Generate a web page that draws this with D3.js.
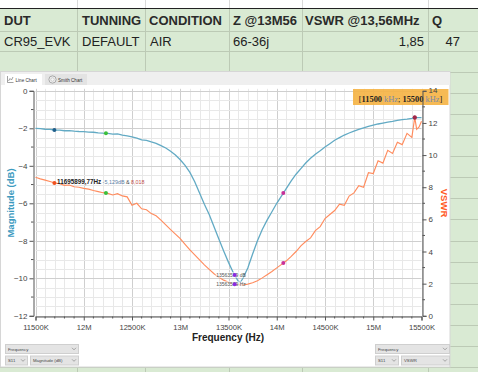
<!DOCTYPE html>
<html><head><meta charset="utf-8">
<script src="https://cdn.jsdelivr.net/npm/d3@7"></script>
<style>html,body{margin:0;padding:0;background:#fff;}svg{display:block;}</style>
</head><body>
<svg id="c" width="478" height="372"></svg>
<script>
// ---- spreadsheet content ----
const tableHeader = ["DUT","TUNNING","CONDITION","Z @13M56","VSWR @13,56MHz","Q"];
const tableRow = ["CR95_EVK","DEFAULT","AIR","66-36j","1,85","47"];

// ---- chart data (frequency in MHz) ----
const freqMHz = [11.50,11.55,11.60,11.65,11.70,11.75,11.80,11.85,11.90,11.95,
  12.00,12.05,12.10,12.15,12.20,12.25,12.30,12.35,12.40,12.45,
  12.50,12.55,12.60,12.65,12.70,12.75,12.80,12.85,12.90,12.95,
  13.00,13.05,13.10,13.15,13.20,13.25,13.30,13.35,13.40,13.45,
  13.50,13.55,13.60,13.625,13.65,13.70,13.75,13.80,13.85,13.90,13.95,
  14.00,14.05,14.10,14.15,14.20,14.25,14.30,14.35,14.40,14.45,
  14.50,14.55,14.60,14.65,14.70,14.75,14.80,14.85,14.90,14.95,
  15.00,15.05,15.10,15.15,15.20,15.25,15.30,15.35,15.40,15.43,15.45,15.475,15.50];
const s11dB = [-2.00,-2.02,-2.05,-2.06,-2.09,-2.10,-2.13,-2.12,-2.15,-2.17,
  -2.18,-2.20,-2.21,-2.24,-2.26,-2.27,-2.31,-2.30,-2.36,-2.40,
  -2.46,-2.52,-2.62,-2.64,-2.73,-2.80,-2.92,-3.05,-3.22,-3.42,
  -3.68,-3.98,-4.35,-4.85,-5.45,-6.05,-6.60,-7.25,-7.90,-8.55,
  -9.15,-9.70,-10.15,-10.20,-10.00,-9.45,-8.70,-8.00,-7.40,-6.90,-6.45,
  -6.00,-5.60,-5.20,-4.80,-4.45,-4.15,-3.85,-3.60,-3.38,-3.20,
  -3.00,-2.82,-2.64,-2.50,-2.36,-2.25,-2.15,-2.06,-1.98,-1.90,
  -1.83,-1.77,-1.72,-1.67,-1.63,-1.58,-1.54,-1.51,-1.47,-1.44,-1.43,-1.43,-1.43];
const vswr = [8.62,8.52,8.44,8.36,8.26,8.22,8.12,8.14,8.03,8.00,
  7.93,7.88,7.80,7.73,7.66,7.62,7.52,7.60,7.46,7.40,
  6.88,7.00,6.66,6.60,6.36,6.22,5.95,5.66,5.36,5.08,
  4.80,4.45,4.10,3.79,3.48,3.17,2.89,2.62,2.40,2.22,
  2.08,1.98,1.93,1.92,1.92,1.97,2.06,2.18,2.36,2.56,2.76,
  2.98,3.20,3.42,3.70,4.00,4.35,4.62,4.85,5.30,5.55,
  6.05,6.30,6.55,6.95,6.88,7.45,7.65,8.10,8.00,8.90,
  8.85,9.65,9.50,10.30,10.10,10.80,10.65,11.35,11.10,12.35,11.60,11.75,12.10];

const xTickValues = [11.5,12.0,12.5,13.0,13.5,14.0,14.5,15.0,15.5];
const xTickLabels = ["11500K","12M","12500K","13M","13500K","14M","14500K","15M","15500K"];
const leftTicks = [0,-2,-4,-6,-8,-10,-12];
const rightTicks = [0,2,4,6,8,10,12,14];

const markerFreqs = [11.6959, 12.23, 13.5636, 14.068, 15.43];
const markerColorsS11 = ["#1f5f8b","#3cbf3c","#8a2be2","#c8329a","#a0284a"];
const markerColorsVswr = ["#f0501e","#3cbf3c","#8a2be2","#c8329a","#a0284a"];

const rangeLabel = ["11500","15500"];

// ---- drawing ----
const svg = d3.select("#c");
const W = 478, H = 372;

// spreadsheet background
svg.append("rect").attr("x",0).attr("y",0).attr("width",W).attr("height",H).attr("fill","#ffffff");
svg.append("rect").attr("x",0).attr("y",8.5).attr("width",W).attr("height",H-8.5).attr("fill","#d9ead3");
const colX = [77,145,229,302,428];
const rowY = [30.5,51,71.5];
for (let k=1;k<=14;k++) rowY.push(71.5 + k*21.14);
const cellLine = "#bccab5";
colX.forEach(x=>svg.append("line").attr("x1",x+0.5).attr("x2",x+0.5).attr("y1",8).attr("y2",H).attr("stroke",cellLine).attr("stroke-width",1));
colX.forEach(x=>svg.append("line").attr("x1",x+0.5).attr("x2",x+0.5).attr("y1",0).attr("y2",8).attr("stroke","#dadada"));
rowY.forEach(y=>svg.append("line").attr("x1",0).attr("x2",W).attr("y1",Math.round(y)+0.5).attr("y2",Math.round(y)+0.5).attr("stroke",cellLine));
svg.append("line").attr("x1",0).attr("x2",W).attr("y1",8.5).attr("y2",8.5).attr("stroke","#222").attr("stroke-width",1.2);

const hdrX = [4,82,149,233,305,432];
tableHeader.forEach((t,i)=>svg.append("text").attr("x",hdrX[i]).attr("y",25).text(t)
  .attr("font-family","Liberation Sans, Arial, sans-serif").attr("font-size",13).attr("font-weight","bold").attr("fill","#2a2a2a"));
const rowX = [4,82,150,233,424,460];
tableRow.forEach((t,i)=>svg.append("text").attr("x",rowX[i]).attr("y",45.5).text(t)
  .attr("text-anchor", i>=4 ? "end":"start")
  .attr("font-family","Liberation Sans, Arial, sans-serif").attr("font-size",13).attr("fill","#222"));

// chart panel
svg.append("rect").attr("x",0.5).attr("y",71.5).attr("width",449.5).attr("height",295.5).attr("fill","#ffffff").attr("stroke","#d6d6d6");
svg.append("rect").attr("x",1).attr("y",72).attr("width",449).attr("height",13).attr("fill","#efefef");
// tabs
svg.append("rect").attr("x",5).attr("y",74).attr("width",37).attr("height",11).attr("fill","#ffffff");
svg.append("path").attr("d","M7.5,76 V82.5 H13.5 M8.5,81 L10,78.5 L11.5,80 L13,77").attr("fill","none").attr("stroke","#777").attr("stroke-width",0.7);
svg.append("text").attr("x",15.5).attr("y",81.5).text("Line Chart").attr("font-family","Liberation Sans, Arial, sans-serif").attr("font-size",4.6).attr("fill","#333");
svg.append("rect").attr("x",45).attr("y",74).attr("width",42).attr("height",11).attr("fill","#e3e3e3");
svg.append("circle").attr("cx",52.5).attr("cy",79.5).attr("r",3.6).attr("fill","#f4f4f4").attr("stroke","#8a8a8a").attr("stroke-width",0.7);
svg.append("circle").attr("cx",52.5).attr("cy",79.5).attr("r",1.8).attr("fill","none").attr("stroke","#aaa").attr("stroke-width",0.5);
svg.append("text").attr("x",58).attr("y",81.5).text("Smith Chart").attr("font-family","Liberation Sans, Arial, sans-serif").attr("font-size",4.6).attr("fill","#333");

// scales
const x = d3.scaleLinear().domain([11.5,15.5]).range([35.5,421.5]);
const yL = d3.scaleLinear().domain([-12,0]).range([315.8,90.8]);
const yR = d3.scaleLinear().domain([0,14]).range([315.8,90.8]);

// grid
const g = svg.append("g");
const minorX = d3.range(0,41).map(i=>11.5+i*0.1);
const minorY = d3.range(0,25).map(i=>-12+i*0.5);
g.selectAll("line.mx").data(minorX).enter().append("line")
  .attr("x1",d=>Math.round(x(d))+0.5).attr("x2",d=>Math.round(x(d))+0.5).attr("y1",yL(0)-2).attr("y2",yL(-12))
  .attr("stroke",(d,i)=>i%5===0?"#cfcfcf":"#e8e8e8").attr("stroke-width",1);
g.selectAll("line.my").data(minorY).enter().append("line")
  .attr("y1",d=>Math.round(yL(d))+0.5).attr("y2",d=>Math.round(yL(d))+0.5).attr("x1",x(11.5)).attr("x2",x(15.5))
  .attr("stroke",(d,i)=>i%4===0?"#cfcfcf":"#e8e8e8").attr("stroke-width",1);

// range label box (under axes)
const box = svg.append("g");
box.append("rect").attr("x",353).attr("y",89).attr("width",95.5).attr("height",16).attr("fill","#f5b342").attr("opacity",0.9);
const bt = box.append("text").attr("x",400.5).attr("y",101.5).attr("text-anchor","middle")
  .attr("font-family","Liberation Serif, Times New Roman, serif").attr("font-size",8.4).attr("fill","#222");
bt.append("tspan").text("[");
bt.append("tspan").text(rangeLabel[0]).attr("font-weight","bold");
bt.append("tspan").text(" kHz").attr("fill","#7d8aa5");
bt.append("tspan").text("; ");
bt.append("tspan").text(rangeLabel[1]).attr("font-weight","bold");
bt.append("tspan").text(" kHz").attr("fill","#7d8aa5");
bt.append("tspan").text("]");

// axes
const axisFont = "Liberation Sans, Arial, sans-serif";
const leftAxis = d3.axisLeft(yL).tickValues(leftTicks).tickSize(4).tickPadding(2).tickFormat(d3.format("d"));
const gl = svg.append("g").attr("transform","translate(33.5,0)").call(leftAxis);
const rightAxis = d3.axisRight(yR).tickValues(rightTicks).tickSize(4).tickPadding(2).tickFormat(d3.format("d"));
const gr = svg.append("g").attr("transform","translate(422.5,0)").call(rightAxis);
const bottomAxis = d3.axisBottom(x).tickValues(xTickValues).tickSize(4).tickPadding(4.5).tickFormat((d,i)=>xTickLabels[i]);
const gb = svg.append("g").attr("transform","translate(0,316.5)").call(bottomAxis);
[gl,gr,gb].forEach(a=>{
  a.select(".domain").attr("stroke","#555").attr("stroke-width",1);
  a.selectAll(".tick line").attr("stroke","#555");
  a.selectAll("text").attr("font-family",axisFont).attr("font-size",8).attr("fill","#444");
});
gb.selectAll("text").attr("font-size",7.6);
gr.selectAll(".tick").filter(d=>d===14).select("text").attr("dy","0.2em");
// minor ticks
svg.append("g").selectAll("line").data(d3.range(-11,0,2)).enter().append("line")
  .attr("x1",31).attr("x2",33.5).attr("y1",d=>yL(d)).attr("y2",d=>yL(d)).attr("stroke","#555");
svg.append("g").selectAll("line").data(d3.range(1,14,2)).enter().append("line")
  .attr("x1",422.5).attr("x2",425).attr("y1",d=>yR(d)).attr("y2",d=>yR(d)).attr("stroke","#555");
svg.append("g").selectAll("line").data(minorX.filter((d,i)=>i%5!==0)).enter().append("line")
  .attr("x1",d=>x(d)).attr("x2",d=>x(d)).attr("y1",316.5).attr("y2",318.5).attr("stroke","#555");

// titles
svg.append("text").attr("transform","translate(14,203) rotate(-90)").attr("text-anchor","middle")
  .text("Magnitude (dB)").attr("font-family",axisFont).attr("font-size",9.5).attr("font-weight","bold").attr("fill","#3d9bbf");
svg.append("text").attr("transform","translate(441,203) rotate(90)").attr("text-anchor","middle")
  .text("VSWR").attr("font-family",axisFont).attr("font-size",9.5).attr("font-weight","bold").attr("fill","#ff5a1f");
svg.append("text").attr("x",228).attr("y",341).attr("text-anchor","middle")
  .text("Frequency (Hz)").attr("font-family",axisFont).attr("font-size",10).attr("font-weight","bold").attr("fill","#222");

// lines
const lineS11 = d3.line().x((d,i)=>x(freqMHz[i])).y(d=>yL(d));
const lineV = d3.line().x((d,i)=>x(freqMHz[i])).y(d=>yR(d));
svg.append("path").attr("d",lineV(vswr)).attr("fill","none").attr("stroke","#ff8c5e").attr("stroke-width",1.15);
svg.append("path").attr("d",lineS11(s11dB)).attr("fill","none").attr("stroke","#62aac4").attr("stroke-width",1.3);

// markers (values interpolated from the series)
function interp(arr,f){
  const i = Math.max(1, d3.bisectLeft(freqMHz,f));
  const f0=freqMHz[i-1], f1=freqMHz[i];
  const t=(f-f0)/(f1-f0);
  return arr[i-1]+(arr[i]-arr[i-1])*t;
}
function dot(cx,cy,c){ svg.append("circle").attr("cx",cx).attr("cy",cy).attr("r",2).attr("fill",c); }
markerFreqs.forEach((f,k)=>{
  if (k===2) return;
  dot(x(f), yL(interp(s11dB,f)), markerColorsS11[k]);
  dot(x(f), yR(interp(vswr,f)), markerColorsVswr[k]);
});

// marker labels
const l1 = svg.append("text").attr("x",57).attr("y",184).attr("font-family",axisFont).attr("font-size",6.3);
l1.append("tspan").text("11695899,77Hz").attr("font-weight","bold").attr("fill","#222");
l1.append("tspan").text(" -5,129dB").attr("fill","#5b7fa6").attr("font-size",5.4);
l1.append("tspan").text(" & ").attr("fill","#444").attr("font-size",5.4);
l1.append("tspan").text("8,018").attr("fill","#c0504d").attr("font-size",5.4);
const m3 = markerFreqs[2];
[[yL(interp(s11dB,m3)),"13563579 dB"],[yR(interp(vswr,m3)),"13563579 Hz"]].forEach(([yy,t])=>{
  svg.append("rect").attr("x",x(m3)-19).attr("y",yy-3).attr("width",28).attr("height",6).attr("fill","#ffffff").attr("opacity",0.6);
  svg.append("text").attr("x",x(m3)-18.5).attr("y",yy+2).text(t).attr("font-family",axisFont).attr("font-size",5).attr("fill","#555");
});
dot(x(m3), yL(interp(s11dB,m3)), markerColorsS11[2]);
dot(x(m3), yR(interp(vswr,m3)), markerColorsVswr[2]);

// bottom controls
function dropdown(x0,y0,w,label){
  svg.append("rect").attr("x",x0+0.5).attr("y",y0+0.5).attr("width",w).attr("height",9).attr("fill","#e4e4e4").attr("stroke","#cfcfcf");
  svg.append("text").attr("x",x0+3).attr("y",y0+6.5).text(label).attr("font-family",axisFont).attr("font-size",4.3).attr("fill","#444");
  svg.append("path").attr("d",`M${x0+w-6},${y0+3.8} l2,2 l2,-2`).attr("fill","none").attr("stroke","#777").attr("stroke-width",0.6);
}
dropdown(5,344,73,"Frequency");
dropdown(5,355.5,22,"S11");
dropdown(30,355.5,48,"Magnitude (dB)");
dropdown(375,344,74,"Frequency");
dropdown(375,355.5,23,"S11");
dropdown(401,355.5,48,"VSWR");
</script>
</body></html>
